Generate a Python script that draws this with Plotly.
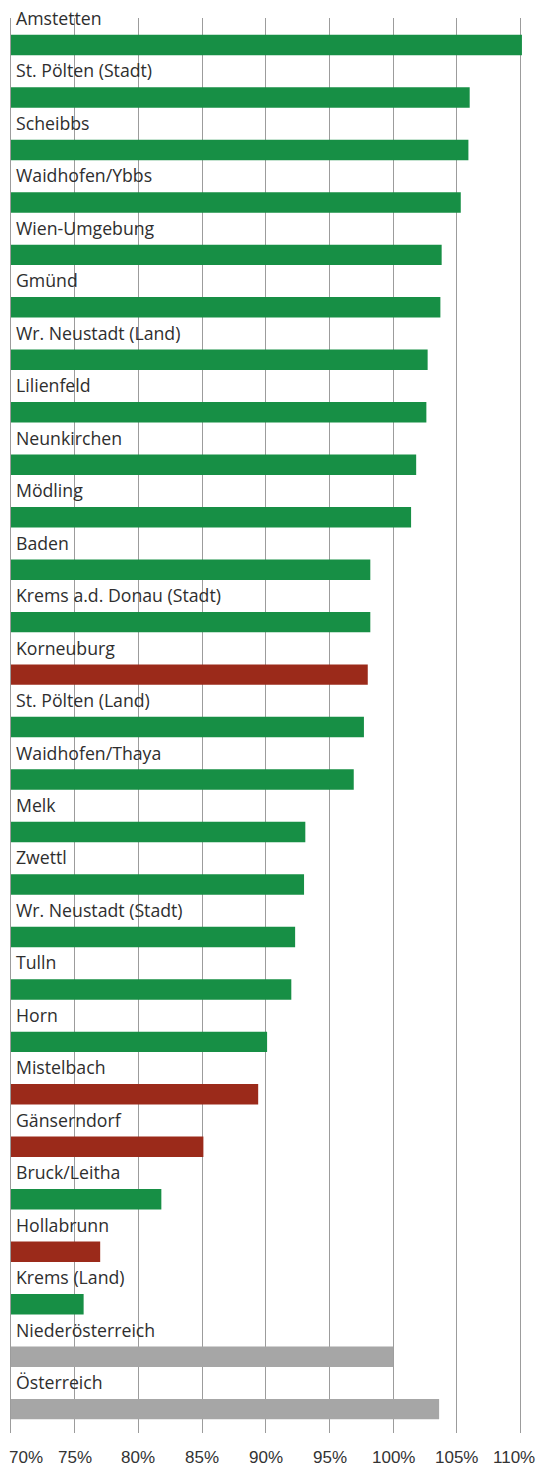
import plotly.graph_objects as go

# Districts of Lower Austria, ordered as shown (top to bottom)
districts = [
    "Amstetten", "St. Pölten (Stadt)", "Scheibbs", "Waidhofen/Ybbs",
    "Wien-Umgebung", "Gmünd", "Wr. Neustadt (Land)", "Lilienfeld",
    "Neunkirchen", "Mödling", "Baden", "Krems a.d. Donau (Stadt)",
    "Korneuburg", "St. Pölten (Land)", "Waidhofen/Thaya", "Melk", "Zwettl",
    "Wr. Neustadt (Stadt)", "Tulln", "Horn", "Mistelbach", "Gänserndorf",
    "Bruck/Leitha", "Hollabrunn", "Krems (Land)", "Niederösterreich",
    "Österreich",
]

# Index values in percent
values = [
    110.1, 106.0, 105.9, 105.3, 103.8, 103.7, 102.7, 102.6, 101.8, 101.4,
    98.2, 98.2, 98.0, 97.7, 96.9, 93.1, 93.0, 92.3, 92.0, 90.1, 89.4, 85.1,
    81.8, 77.0, 75.7, 100.0, 103.6,
]

# Group of each bar: district above/below trend, or reference region
groups = [
    "g", "g", "g", "g", "g", "g", "g", "g", "g", "g", "g", "g", "r", "g",
    "g", "g", "g", "g", "g", "g", "r", "r", "g", "r", "g", "ref", "ref",
]

tick_values = [70, 75, 80, 85, 90, 95, 100, 105, 110]
tick_labels = ["70%", "75%", "80%", "85%", "90%", "95%", "100%", "105%", "110%"]

palette = {"g": "#178f45", "r": "#9b2a1a", "ref": "#a6a6a6"}
positions = list(range(len(districts)))

fig = go.Figure(
    go.Bar(
        x=values,
        y=positions,
        orientation="h",
        width=0.39,
        marker=dict(color=[palette[g] for g in groups], line=dict(width=0)),
        hovertext=districts,
        hoverinfo="text+x",
    )
)

label_font = dict(family="Open Sans", size=17.7, color="#2e2e2e")

annotations = []
# District names sit above their bars, left aligned
for pos, name in zip(positions, districts):
    annotations.append(
        dict(
            x=70, y=pos, xref="x", yref="y", text=name, showarrow=False,
            xanchor="left", yanchor="middle", xshift=3, yshift=27,
            font=label_font,
        )
    )

# Percent labels under the grid lines; the outer two are kept inside the page
for val, lab in zip(tick_values, tick_labels):
    if val == tick_values[0]:
        anchor, shift = "left", -4
    elif val == tick_values[-1]:
        anchor, shift = "right", 16
    else:
        anchor, shift = "center", 0
    annotations.append(
        dict(
            x=val, y=0, xref="x", yref="paper", text=lab, showarrow=False,
            xanchor=anchor, yanchor="top", xshift=shift, yshift=-13,
            font=dict(family="Liberation Sans", size=17, color="#333333"),
        )
    )

fig.update_layout(
    width=539,
    height=1466,
    margin=dict(l=11, r=0, t=18, b=33),
    paper_bgcolor="white",
    plot_bgcolor="white",
    showlegend=False,
    annotations=annotations,
    xaxis=dict(
        range=[70, 111.44],
        tickvals=tick_values,
        showticklabels=False,
        showgrid=True,
        gridcolor="#9c9c9c",
        gridwidth=1.3,
        zeroline=False,
        showline=False,
        fixedrange=True,
    ),
    yaxis=dict(
        range=[26.455, -0.515],
        showticklabels=False,
        showgrid=False,
        zeroline=False,
        showline=True,
        linecolor="#9c9c9c",
        linewidth=1.3,
        fixedrange=True,
    ),
)

fig.write_html("out.html")
